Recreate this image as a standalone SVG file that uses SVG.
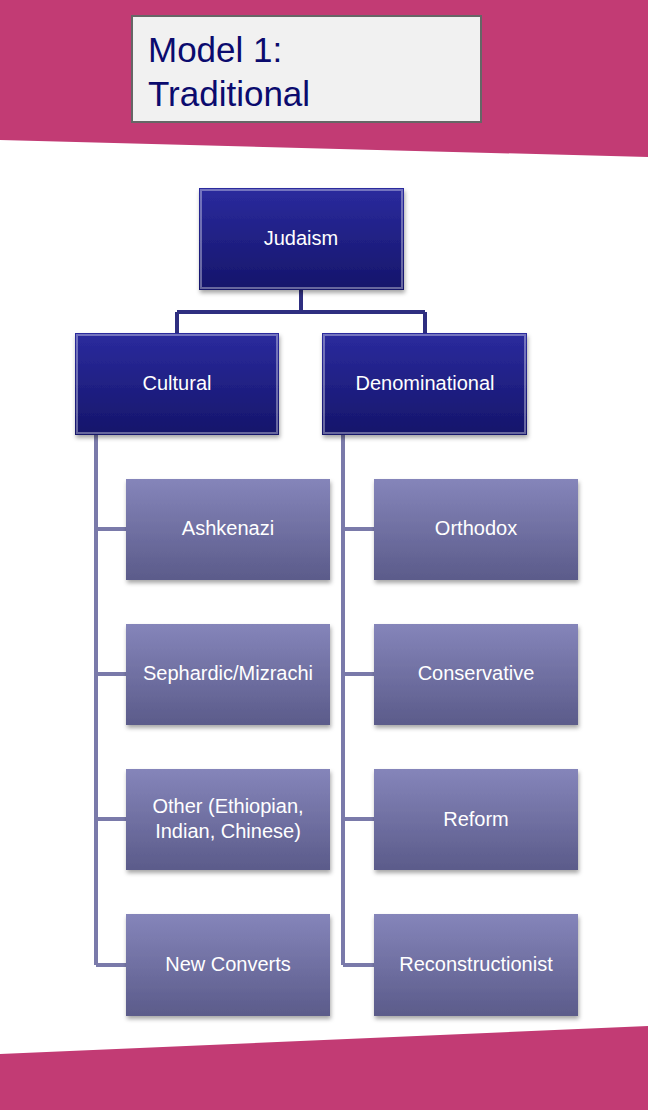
<svg xmlns="http://www.w3.org/2000/svg" width="648" height="1110" viewBox="0 0 648 1110">
<defs>
<linearGradient id="gd" x1="0" y1="0" x2="0" y2="1"><stop offset="0" stop-color="#2b2b9e"/><stop offset="1" stop-color="#15156a"/></linearGradient>
<linearGradient id="gl" x1="0" y1="0" x2="0" y2="1"><stop offset="0" stop-color="#8585ba"/><stop offset="1" stop-color="#5b5b8a"/></linearGradient>
<filter id="sh" x="-10%" y="-10%" width="130%" height="130%"><feDropShadow dx="1" dy="3" stdDeviation="2" flood-color="#000" flood-opacity="0.35"/></filter>
</defs>
<style>
text{font-family:"Liberation Sans",Arial,sans-serif;fill:#fff;font-size:20px;text-anchor:middle}
.d{fill:url(#gd);filter:url(#sh)}
.l{fill:url(#gl);filter:url(#sh)}
.hi{fill:none;stroke:#ffffff;stroke-opacity:0.35;stroke-width:2}
</style>
<rect width="648" height="1110" fill="#fff"/>
<polygon points="0,0 648,0 648,157 0,140" fill="#c23b74"/>
<polygon points="0,1054 648,1026 648,1110 0,1110" fill="#c23b74"/>
<g id="title"><rect x="132" y="16" width="349" height="106" fill="#f1f1f1" stroke="#666" stroke-width="2"/>
<text x="148" y="62" style="fill:#0b0b6e;font-size:35px;text-anchor:start">Model 1:</text>
<text x="148" y="106" style="fill:#0b0b6e;font-size:35px;text-anchor:start">Traditional</text></g>
<g id="connectors" fill="none">
<path d="M301,290V312M177,312H425M177,312V333M425,312V333" stroke="#2e2e80" stroke-width="4"/>
<path d="M96,435V965M96,529H126M96,674H126M96,819H126M96,965H126M343,435V965M343,529H374M343,674H374M343,819H374M343,965H374" stroke="#7a7aaa" stroke-width="4"/>
</g>
<g id="n-judaism"><rect class="d" x="199" y="188" width="205" height="102"/><rect class="hi" x="201" y="190" width="201" height="98"/><text x="301" y="245">Judaism</text></g>
<g id="n-cultural"><rect class="d" x="75" y="333" width="204" height="102"/><rect class="hi" x="77" y="335" width="200" height="98"/><text x="177" y="390">Cultural</text></g>
<g id="n-denom"><rect class="d" x="322" y="333" width="205" height="102"/><rect class="hi" x="324" y="335" width="201" height="98"/><text x="425" y="390">Denominational</text></g>
<g id="n-ashkenazi"><rect class="l" x="126" y="479" width="204" height="101"/><text x="228" y="535">Ashkenazi</text></g>
<g id="n-sephardic"><rect class="l" x="126" y="624" width="204" height="101"/><text x="228" y="680">Sephardic/Mizrachi</text></g>
<g id="n-other"><rect class="l" x="126" y="769" width="204" height="101"/><text x="228" y="813">Other (Ethiopian,</text><text x="228" y="838">Indian, Chinese)</text></g>
<g id="n-converts"><rect class="l" x="126" y="914" width="204" height="102"/><text x="228" y="971">New Converts</text></g>
<g id="n-orthodox"><rect class="l" x="374" y="479" width="204" height="101"/><text x="476" y="535">Orthodox</text></g>
<g id="n-conservative"><rect class="l" x="374" y="624" width="204" height="101"/><text x="476" y="680">Conservative</text></g>
<g id="n-reform"><rect class="l" x="374" y="769" width="204" height="101"/><text x="476" y="826">Reform</text></g>
<g id="n-recon"><rect class="l" x="374" y="914" width="204" height="102"/><text x="476" y="971">Reconstructionist</text></g>
</svg>
